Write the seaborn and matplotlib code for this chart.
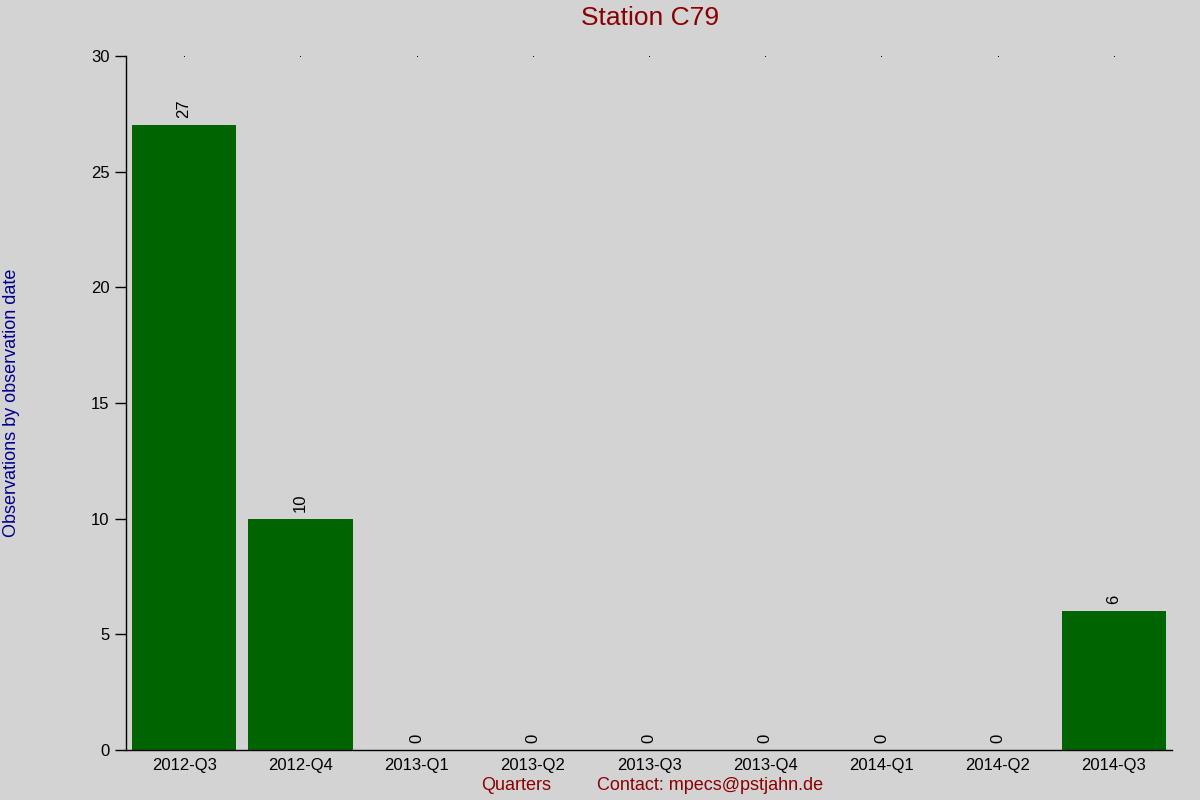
import matplotlib
matplotlib.use("Agg")
import matplotlib.pyplot as plt
import seaborn as sns
import pandas as pd

quarters = ["2012-Q3", "2012-Q4", "2013-Q1", "2013-Q2", "2013-Q3",
            "2013-Q4", "2014-Q1", "2014-Q2", "2014-Q3"]
counts = [27, 10, 0, 0, 0, 0, 0, 0, 6]
y_ticks = [0, 5, 10, 15, 20, 25, 30]

sns.set_style("white")
plt.rcParams['font.family'] = ['Liberation Sans', 'DejaVu Sans']
plt.rcParams['text.color'] = 'black'
plt.rcParams['xtick.color'] = 'black'
plt.rcParams['ytick.color'] = 'black'

bg = "#d3d3d3"
fig = plt.figure(figsize=(12, 8), dpi=100, facecolor=bg)
ax = fig.add_axes([0.105, 0.0625, 0.8717, 0.8675])
ax.set_facecolor(bg)

df = pd.DataFrame({"q": quarters, "n": counts})
sns.barplot(data=df, x="q", y="n", color="#006400", saturation=1,
            width=0.9, linewidth=0, ax=ax)

ax.set_ylim(0, 30)
ax.set_xlim(-0.5, len(quarters) - 0.5)
ax.set_yticks(y_ticks)
ax.tick_params(axis="y", length=8, width=1, color="black", labelcolor="black",
               labelsize=12, pad=4, left=True)
ax.tick_params(axis="x", length=0, labelsize=12, labelcolor="black", pad=6)
for s in ["top", "right"]:
    ax.spines[s].set_visible(False)
for s in ["left", "bottom"]:
    ax.spines[s].set_color("black")
    ax.spines[s].set_linewidth(1)

# small dots at top of each category
for i in range(len(quarters)):
    ax.plot(i, 30, marker="s", markersize=0.6, markeredgewidth=0,
            color="black", clip_on=False)

for i, v in enumerate(counts):
    ax.text(i, v + 0.3, str(v), rotation=90, ha="center", va="bottom",
            fontsize=12, color="black")

ax.set_xlabel("")
ax.set_ylabel("")
fig.text(0.5417, 0.977, "Station C79", ha="center", va="center", fontsize=19, color="#8b0000")
fig.text(0.01, 0.497, "Observations by observation date", rotation=90, ha="center",
         va="center", fontsize=13, color="#00008b")
fig.text(0.43, 0.018, "Quarters", ha="center", va="center", fontsize=13, color="#8b0000")
fig.text(0.5917, 0.018, "Contact: mpecs@pstjahn.de", ha="center", va="center",
         fontsize=13, color="#8b0000")

fig.savefig("out.png", dpi=100, facecolor=bg)
